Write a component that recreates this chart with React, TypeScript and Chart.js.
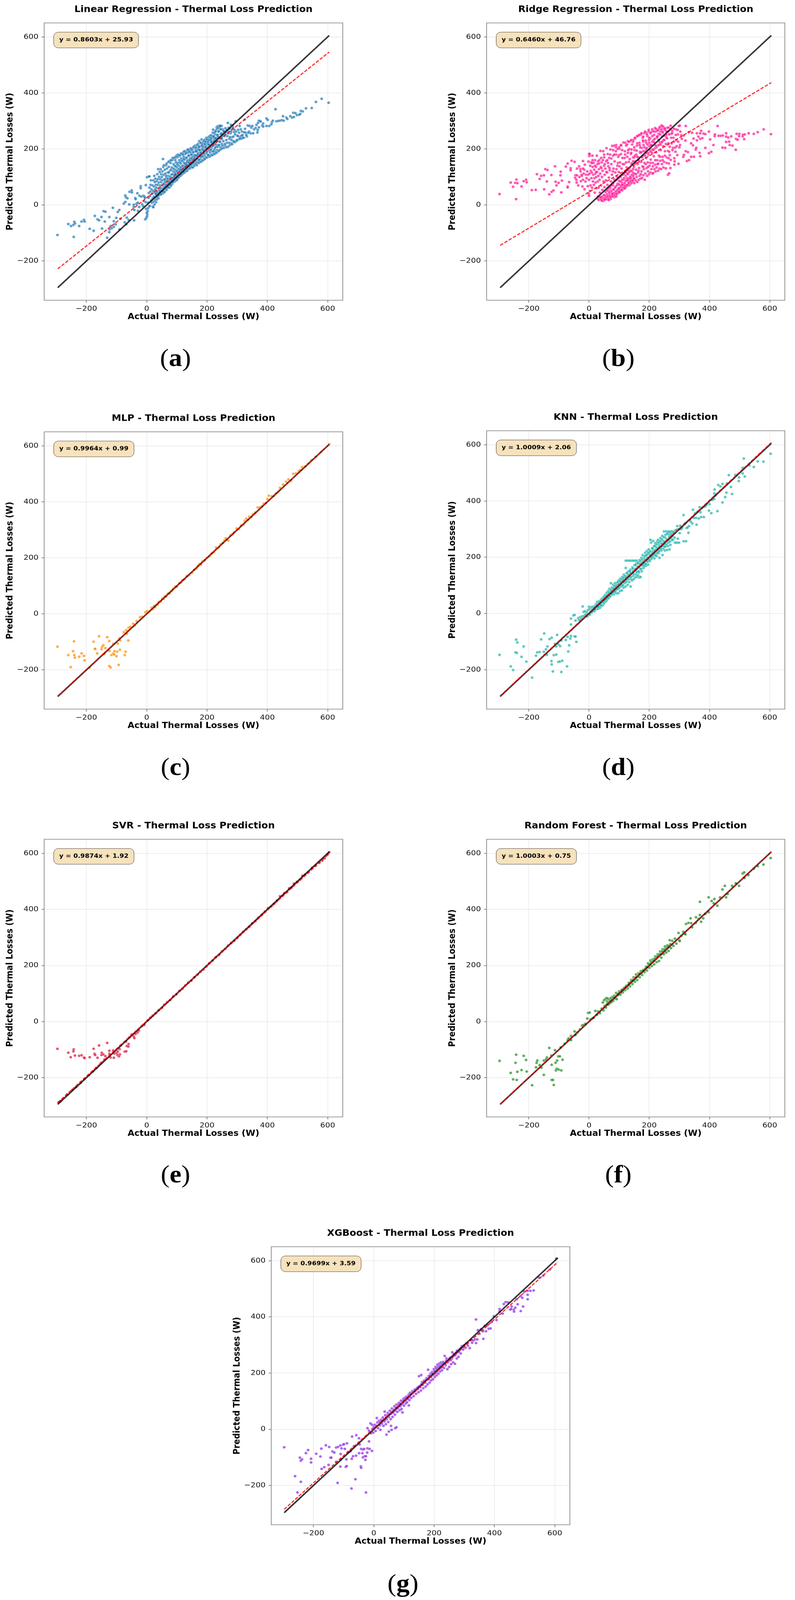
import React, { useEffect, useRef } from "react";
import { Chart, registerables } from "chart.js";

Chart.register(...registerables);

type Pair = [number, number];

const axisTicks = [-200, 0, 200, 400, 600];
const axisMin = -340;
const axisMax = 650;
const xAxisTitle = "Actual Thermal Losses (W)";
const yAxisTitle = "Predicted Thermal Losses (W)";
const identityLine: Pair[] = [[-295, -295], [605, 605]];
const xgbIdentityLine: Pair[] = [[-297, -297], [610, 610]];

const linearFit: Pair[] = [[-295, -228], [605, 546]];
const ridgeFit: Pair[] = [[-295, -144], [605, 437]];
const mlpFit: Pair[] = [[-295, -293], [605, 604]];
const knnFit: Pair[] = [[-295, -293], [605, 608]];
const svrFit: Pair[] = [[-295, -289], [605, 599]];
const forestFit: Pair[] = [[-295, -294], [605, 606]];
const xgbFit: Pair[] = [[-297, -285], [610, 595]];

const linearPoints: Pair[] = [
[-296,-107],[-260,-68],[-251,-75],[-243,-71],[-240,-60],[-238,-66],[-242,-114],[-224,-75],[-216,-59],[-208,-53],[-206,-59],[-189,-85],[-176,-92],[-172,-39],[-163,-51],[-158,-55],[-150,-43],[-148,-84],[-143,-22],[-137,-24],[-139,-59],[-124,-43],[-131,-117],[-119,-75],[-123,-87],[-124,-97],[-116,-83],[-109,-78],[-112,-10],[-109,-58],[-103,-69],[-101,-46],[-96,-25],[-91,-18],[-87,-49],[-90,-87],[-76,5],[-71,11],[-71,34],[-69,28],[-64,24],[-73,-62],[-68,-69],[-66,-45],[-60,-53],[-58,2],[-57,47],[-50,52],[-49,45],[-42,-55],[-38,25],[-37,21],[-31,42],[-43,1],[-43,-7],[-41,-18],[-29,-21],[-25,-7],[-20,67],[-20,60],[-11,33],[-8,30],[-5,-51],[-1,-46],[2,-33],[-3,71],[1,99],[6,101],[9,102],
[-34,4],[-30,8],[-24,33],[-18,30],[-15,2],[-12,-4],[-9,14],[-6,26],[-3,10],[-2,-14],[0,-28],[1,-40],[3,-22],[4,-12],[5,8],[6,26],[7,43],[8,-6],[9,62],[10,-3],[11,32],[12,48],[13,72],[14,88],[15,16],[16,56],[17,8],[18,40],[19,70],[20,-5],[20,24],[21,50],[22,-8],[22,88],[23,12],[24,30],[24,66],[25,104],[26,2],[26,44],[27,82],[28,18],[28,56],[29,94],[30,26],[30,72],[31,10],[32,38],[32,62],[33,85],[34,20],[34,50],[35,110],[36,30],[36,72],[37,92],[38,128],[38,42],[39,24],[40,60],[40,80],[41,34],[41,100],[42,50],[43,118],[44,38],[44,70],[45,92],[46,44],[46,128],[47,60],[47,82],[48,110],[49,40],[50,70],[50,100],[51,50],[52,120],[52,88],[53,58],[54,164],[54,42],[55,76],[55,136],[56,108],[57,52],[57,142],[58,92],[59,66],[60,126],[60,48],[61,82],[62,112],[63,60],[64,142],[65,98],[65,74],[66,54],[67,130],[68,86],[69,64],[70,116],[71,104],[72,70],[73,136],[74,92],[75,62],[76,157],[77,122],[78,78],[79,150],[80,68],[81,108],[82,88],[83,134],[84,74],[85,160],[86,98],[87,80],[88,120],[89,146],[90,166],[90,88],[91,108],[92,141],[93,84],[94,126],[95,160],[96,94],[97,152],[98,112],[99,88],[100,170],[100,134],[101,92],[102,150],[103,100],[104,122],[105,173],[106,98],[107,140],[108,160],[109,106],[110,128],[111,176],[112,104],[113,148],[114,118],[115,166],[116,108],[117,136],[118,182],[119,112],[120,156],[121,124],[122,189],[122,114],[123,172],[124,140],[125,116],[126,162],[127,128],[128,182],[129,120],[130,150],[131,192],[132,132],[133,170],[134,122],[135,144],[136,186],[137,128],[138,160],[139,198],[140,136],[141,176],[142,195],[143,130],[144,152],[145,188],[146,134],[147,168],[148,142],[149,200],[150,136],[151,180],[152,156],[153,134],[154,204],[155,146],[156,170],[157,190],[158,140],[159,162],[160,212],[161,146],[162,196],[163,178],[164,150],[165,206],[166,142],[167,168],[168,188],[169,152],[170,218],[171,160],[172,198],[173,150],[174,228],[175,176],[176,156],[177,210],[178,164],[179,192],[180,154],[181,222],[182,234],[183,172],[184,158],[185,204],[186,182],[187,160],[188,226],[189,194],[190,166],[191,214],[192,176],[193,164],[194,234],[195,200],[196,170],[197,222],[198,240],[199,184],[200,170],[201,206],[202,232],[203,176],[204,194],[205,242],[206,178],[207,216],[208,172],[209,246],[210,188],[211,226],[212,176],[213,249],[214,202],[215,180],[216,238],[217,192],[218,178],[219,258],[220,269],[221,212],[222,184],[223,242],[224,198],[225,182],[226,252],[227,222],[228,190],[229,266],[230,208],[231,186],[232,278],[233,236],[234,196],[235,280],[236,250],[237,214],[238,192],[239,264],[240,283],[241,226],[242,196],[243,272],[244,206],[245,283],[246,240],[247,200],[248,256],[249,218],[250,202],[252,270],[254,228],[256,204],[258,246],[260,212],[262,260],[264,206],[266,222],[269,293],[270,208],[272,276],[274,236],[276,214],[278,256],[280,220],[282,242],[283,217],[285,284],[288,228],[290,260],[292,224],[295,299],[297,228],[300,248],[303,268],[305,234],[308,282],[310,244],[313,236],[316,262],[318,250],[322,240],[325,305],[326,272],[328,258],[332,245],[335,284],[339,262],[341,282],[345,256],[347,276],[350,282],[353,256],[356,270],[361,275],[364,286],[367,259],[368,268],[369,293],[372,277],[372,301],[374,300],[378,298],[383,284],[386,280],[386,291],[397,282],[397,309],[401,304],[406,282],[413,288],[415,295],[418,301],[427,342],[430,299],[436,300],[442,301],[448,303],[452,317],[454,301],[463,312],[466,307],[476,317],[482,312],[488,314],[486,329],[493,328],[498,321],[505,322],[509,325],[511,336],[517,334],[528,345],[547,346],[561,368],[580,379],[603,365]
];
const linearDense: Pair[] = [
[33,46],[37,33],[43,52],[47,38],[52,47],[56,61],[58,46],[63,72],[66,62],[71,63],[74,80],[79,72],[83,96],[86,82],[91,90],[94,100],[97,98],[101,116],[103,106],[107,110],[111,122],[113,110],[118,131],[121,118],[124,150],[126,130],[129,142],[133,134],[135,158],[138,142],[141,152],[144,166],[146,146],[149,158],[152,172],[155,152],[158,176],[161,158],[163,192],[166,166],[169,178],[171,198],[173,162],[176,186],[179,172],[182,198],[184,174],[187,208],[191,184],[193,196],[196,212],[199,190],[202,220],[204,178],[207,200],[210,232],[212,196],[215,208],[218,226],[221,192],[224,236],[227,204],[229,216],[233,250],[235,208],[238,262],[240,214],[243,226],[246,270],[249,236],[251,212],[254,252],[257,262],[259,218],[261,274],[264,232],[267,246],[271,262],[273,222],[276,242],[279,286],[281,232],[284,272],[287,244],[289,226],[293,252],[296,262],[299,232],[302,246],[306,258],[309,238],[312,270],[315,248],[319,240],[323,260],[330,250],[337,258],
[66,148],[72,154],[80,160],[86,168],[93,170],[98,175],[103,180],[108,178],[114,184],[120,180],[125,192],[130,186],[136,198],[140,190],[146,202],[150,196],[156,208],[162,204],[167,214],[172,210],[178,222],[184,218],[190,230],[194,226],[200,234],[206,232],[212,240],[218,246],[224,258],[228,262],[233,272],[237,276],[242,280],[248,282],[243,282],
[60,90],[64,104],[69,94],[73,116],[77,100],[81,126],[85,110],[89,130],[93,116],[96,138],[99,122],[102,144],[106,128],[109,152],[112,134],[116,158],[119,140],[123,164],[127,148],[131,168],[134,152],[139,176],[143,160],[147,180],[151,166],[154,188],[159,170],[164,192],[168,176],[174,206],[177,182],[183,212],[188,194],[192,218],[197,204],[203,226],[208,214],[213,232],[217,220],[222,244],[226,232],[231,240],
[30,40],[34,30],[39,36],[44,46],[49,52],[53,48],[57,58],[61,66],[65,68],[68,72],[72,78],[76,84],[80,90],[84,88],[88,94],[92,98],[95,110],[99,104],[104,112],[108,118],[112,126],[115,118],[119,128],[124,134],[128,136],[132,144],[136,140],[140,152],[145,150],[149,166],[153,162],[157,164],[160,178],[165,176],[170,182],[175,196],[180,186],[186,198],[190,192],[195,206],[200,202],[205,216],[209,208],[214,224],[219,212],[223,228],[228,238],[232,226],[237,244],[241,238],[246,254],[250,246],[255,264],[260,252],[265,268],[270,256],[275,272],[280,262],[286,276],[291,268]
];

const ridgePoints: Pair[] = [
[-297,39],[-260,80],[-252,65],[-241,91],[-245,79],[-238,78],[-242,21],[-224,66],[-217,85],[-209,90],[-207,81],[-190,53],[-177,54],[-173,110],[-164,93],[-159,104],[-150,106],[-149,56],[-145,128],[-138,125],[-140,84],[-125,107],[-132,38],[-124,47],[-118,52],[-113,138],[-111,83],[-108,70],[-101,79],[-95,106],[-92,45],[-90,87],[-94,119],[-77,137],[-71,148],[-71,66],[-66,82],[-71,63],[-61,131],[-61,124],[-58,158],[-48,154],[-45,106],[-46,97],[-42,90],[-41,80],[-33,138],[-29,128],[-25,108],[-27,85],[-22,66],[-20,157],[-14,144],[-16,126],[-10,108],[-15,56],[-4,67],[-1,40],[0,33],[-2,155],[0,183],[1,175],
[2,182],[-40,106],[-36,70],[-32,100],[-28,120],[-24,104],[-20,90],[-18,112],[-12,84],[-8,96],[-6,120],[-3,108],[0,90],[2,112],[3,50],[4,140],[5,70],[6,122],[7,152],[8,96],[9,116],[10,62],[11,176],[12,136],[13,84],[14,108],[15,150],[16,72],[17,126],[18,96],[19,44],[20,160],[21,112],[22,80],[23,136],[24,100],[25,60],[26,176],[27,118],[28,146],[29,84],[30,30],[31,104],[32,62],[33,128],[34,160],[35,90],[36,44],[37,112],[38,193],[39,136],[40,70],[41,20],[42,152],[43,100],[44,54],[45,122],[46,14],[47,192],[48,84],[49,36],[50,140],[50,170],[51,64],[52,108],[53,24],[54,130],[55,46],[56,88],[57,156],[58,203],[59,30],[60,116],[61,72],[62,182],[63,20],[64,138],[65,50],[66,98],[67,168],[68,36],[69,124],[70,60],[71,198],[72,22],[73,84],[74,146],[75,44],[76,108],[77,211],[78,30],[79,70],[80,176],[81,130],[82,54],[83,92],[84,28],[85,156],[86,42],[87,116],[88,66],[89,192],[90,214],[91,36],[92,102],[93,50],[94,140],[95,76],[96,42],[97,172],[98,60],[99,118],[100,86],[101,200],[102,46],[103,152],[104,70],[105,100],[106,56],[107,212],[108,130],[109,80],[110,52],[111,168],[112,62],[113,108],[114,223],[115,90],[116,58],[117,146],[118,70],[119,192],[120,61],[121,116],[122,84],[123,212],[124,66],[125,134],[126,96],[127,172],[128,72],[129,228],[130,110],[131,82],[132,154],[133,70],[134,200],[135,122],[136,90],[137,228],[138,76],[139,182],[140,102],[141,148],[142,80],[143,216],[144,118],[145,86],[146,170],[147,232],[148,96],[149,136],[150,78],[151,196],[152,112],[153,156],[154,238],[155,88],[156,126],[157,180],[158,100],[159,212],[160,82],[161,146],[162,246],[163,116],[164,170],[165,90],[166,132],[167,222],[168,104],[169,190],[170,250],[171,94],[172,252],[173,154],[174,120],[175,204],[176,96],[177,138],[178,240],[179,176],[180,106],[181,214],[182,128],[183,256],[184,150],[185,90],[186,192],[187,112],[188,230],[189,168],[190,258],[191,132],[192,204],[193,104],[194,246],[195,152],[196,120],[197,180],[198,262],[199,110],[200,222],[201,140],[202,196],[203,238],[204,116],[205,162],[206,260],[207,128],[208,214],[209,186],[210,112],[211,264],[212,150],[213,114],[214,232],[215,174],[216,250],[217,128],[218,202],[219,275],[220,144],[221,120],[222,262],[223,188],[224,134],[225,240],[226,160],[227,268],[228,212],[229,122],[230,148],[231,254],[232,176],[233,272],[234,130],[235,224],[236,158],[237,262],[238,196],[239,128],[240,280],[241,284],[242,146],[243,244],[244,172],[245,258],[246,210],[247,134],[248,272],[249,154],[250,232],[252,192],[254,266],[255,131],[256,250],[258,170],[260,276],[262,193],[262,108],[264,167],[265,148],[266,113],[268,178],[270,132],[271,283],[271,161],[272,254],[274,220],[276,264],[279,204],[280,240],[283,167],[283,144],[284,156],[286,205],[288,270],[290,232],[293,178],[295,252],[297,147],[298,282],[300,206],[301,283],[303,262],[306,249],[313,172],[315,179],[320,230],[321,192],[321,282],[325,157],[328,189],[331,260],[332,160],[339,172],[339,220],[342,258],[345,213],[347,237],[348,172],[354,198],[356,204],[358,256],[358,231],[363,244],[367,186],[369,236],[369,256],[369,174],[372,265],[376,239],[380,255],[386,253],[386,204],[398,262],[398,185],[402,234],[406,190],[413,214],[417,246],[418,252],[427,282],[430,247],[437,247],[443,205],[444,248],[452,204],[455,225],[455,244],[455,256],[462,241],[465,226],[467,214],[472,245],[476,212],[487,197],[488,236],[490,254],[493,233],[498,246],[499,254],[510,245],[511,251],[515,235],[517,252],[530,256],[547,254],[560,260],[580,270],[604,253]
];
const ridgeDense: Pair[] = [
[28,22],[32,18],[35,28],[38,22],[42,16],[44,30],[47,24],[50,18],[52,34],[55,26],[58,20],[60,38],[62,30],[65,24],[67,44],[69,32],[72,28],[74,50],[76,38],[79,32],[81,56],[83,42],[85,34],[87,62],[89,48],[91,40],[93,70],[95,54],[97,46],[99,74],[100,60],[102,50],[104,84],[106,66],[108,54],[110,90],[112,72],[114,62],[116,96],[118,78],[120,68],[122,104],[124,88],[126,72],[128,112],[130,94],[132,78],[134,118],[136,100],[138,84],[140,122],[142,108],[144,88],[146,128],[148,112],[150,94],[60,52],[64,60],[70,66],[75,72],[80,78],[86,86],[92,90],[98,96],[104,102],[110,108],[116,112],[122,118],[128,124],[134,132],
[150,170],[156,150],[160,172],[166,160],[170,186],[176,170],[180,192],[186,176],[190,200],[196,186],[200,210],[205,190],[210,226],[214,196],[218,236],[224,206],[228,246],[232,214],[236,252],[240,222],[244,262],[248,232],[252,270],[256,242],[262,262],[266,252],[270,270],[276,256],[282,272],[288,250],[294,268],
[160,246],[166,250],[174,256],[180,244],[186,262],[192,252],[198,268],[204,256],[210,270],[216,262],[222,272],[228,266],[234,278],[240,270],[246,280],[252,274],[258,262],[264,276],[120,222],[126,216],[132,226],[140,232],[146,226],[152,240],[100,206],[106,214],[90,206],[95,200],[84,212],
[-40,130],[-20,130],[10,150],[20,140],[30,156],[40,168],[50,180],[60,160],[70,180],[80,196],[90,180],[100,178],[110,196],[120,180],[130,196],[140,186],[150,206],[160,220],[170,206],[180,226],[190,222],[200,240],[210,246],
[12,160],[24,118],[33,148],[41,132],[46,160],[52,146],[58,118],[63,150],[68,132],[74,166],[79,120],[84,180],[91,128],[96,150],[101,138],[106,182],[112,146],[118,168],[123,152],[129,186],[135,164],[141,198],[146,156],[152,176],[158,194],[163,160],[168,214],[173,188],[179,230],[184,206],[189,186],[194,216],[199,232],[205,214],[211,198],[216,224],[221,212],[226,244],[231,232],[237,216],[243,226],[249,248],[255,218],[259,238],[263,220],[268,208],[273,240],[277,196],[282,226],[287,190],[291,210],[296,226],[302,214],[308,236],[314,248],[40,28],[52,20],[66,18],[78,40],[90,30],[100,46],[110,72],[118,60],[128,88],[138,96],[147,104],[156,110],[164,122],[172,110],[180,136],[188,146],[196,136],[204,150],[212,138],[220,160],[228,146],[236,172],[244,160],[252,176],[258,150],[266,190]
];

const mlpPoints: Pair[] = [
[-296,-117],[-260,-147],[-252,-190],[-244,-133],[-241,-98],[-240,-147],[-238,-156],[-224,-153],[-216,-141],[-208,-150],[-206,-166],[-190,-192],[-176,-99],[-172,-125],[-171,-125],[-164,-141],[-158,-80],[-150,-126],[-148,-118],[-144,-112],[-140,-143],[-137,-122],[-131,-83],[-124,-97],[-124,-132],[-124,-186],[-120,-191],[-117,-147],[-111,-107],[-111,-142],[-107,-133],[-108,-145],[-100,-151],[-98,-135],[-96,-106],[-93,-182],[-89,-128],[-90,-87],[-88,-95],[-73,-147],[-70,-135],[-61,-95],[-66,-71],[-76,-65],[-68,-58],[-60,-49],[-54,-46],[-45,-35],[-41,-42],[-33,-26],[-22,-12],[-16,-10],[-4,6],[1,10],
[8,8],[16,22],[20,17],[24,28],[28,24],[32,32],[36,33],[40,43],[46,44],[52,55],[56,53],[60,63],[65,62],[70,72],[76,73],[82,82],[88,90],[95,98],[100,97],[108,110],[113,112],[118,120],[125,124],[133,135],[140,138],[150,147],[158,158],[165,162],[170,172],[175,178],[180,176],[185,187],[192,191],[200,200],[208,206],[215,215],[222,220],[230,237],[238,236],[245,248],[252,254],[258,262],[262,270],[270,262],[278,281],[285,284],[290,292],[298,305],[305,303],[313,316],[320,318],[325,332],[330,340],[335,336],[340,347],[346,345],[352,356],[360,362],[368,380],[375,380],[382,384],[388,393],[395,396],[400,410],[405,422],[415,420],[422,422],[428,430],[436,437],[442,450],[452,462],[462,472],[470,480],[478,475],[486,500],[495,502],[505,510],[510,513],[515,524],[525,526],[535,536],[545,548],[560,560],[578,578],[605,606]
];

const knnPoints: Pair[] = [
[-297,-147],[-260,-188],[-252,-201],[-242,-93],[-238,-103],[-244,-138],[-240,-140],[-217,-117],[-224,-154],[-208,-171],[-189,-228],[-176,-150],[-172,-138],[-164,-137],[-159,-92],[-150,-136],[-140,-147],[-143,-127],[-138,-117],[-149,-71],[-131,-91],[-124,-86],[-125,-169],[-124,-181],[-120,-206],[-117,-148],[-109,-146],[-113,-108],[-109,-117],[-106,-76],[-101,-110],[-96,-116],[-102,-172],[-97,-171],[-89,-168],[-92,-208],[-92,-96],[-77,-94],[-73,-188],[-71,-83],[-69,-135],[-66,-113],[-62,-89],[-60,-80],[-60,-39],[-60,-18],[-48,-81],[-45,-82],[-42,-101],[-52,-7],[-45,-25],[-48,-5],[-36,-16],[-29,-12],[-21,25],[-18,6],
[-34,-22],[-30,-26],[-26,-18],[-22,-10],[-16,-8],[-14,8],[-12,-4],[-8,4],[-6,-10],[-4,12],[-2,-2],[0,24],[1,16],[3,-4],[5,6],[7,22],[9,4],[10,14],[12,24],[14,10],[16,18],[18,8],[20,28],[22,14],[24,34],[25,20],[27,42],[28,24],[30,16],[32,42],[33,28],[35,44],[36,20],[38,34],[40,50],[41,26],[43,40],[44,54],[46,30],[47,46],[49,60],[50,36],[52,52],[53,66],[55,42],[56,60],[58,46],[59,74],[61,52],[62,66],[64,80],[65,54],[67,70],[68,88],[70,60],[71,78],[73,108],[74,66],[76,92],[77,72],[79,84],[80,102],[82,68],[83,92],[85,76],[86,108],[88,84],[89,96],[91,72],[92,110],[94,88],[95,102],[97,72],[98,118],[100,92],[101,112],[103,80],[104,124],[106,96],[107,116],[109,82],[110,130],[112,102],[113,122],[115,92],[116,138],[118,108],[119,128],[121,96],[122,162],[122,188],[124,118],[125,144],[127,188],[128,102],[129,132],[131,150],[132,188],[133,112],[134,130],[136,188],[137,156],[138,96],[139,122],[141,146],[142,188],[143,118],[144,164],[146,134],[147,188],[148,122],[150,152],[151,172],[152,188],[153,128],[155,160],[156,138],[157,178],[158,188],[159,130],[160,150],[162,182],[163,136],[164,168],[166,146],[167,128],[168,190],[170,160],[171,130],[172,176],[174,198],[175,150],[177,170],[178,208],[180,186],[181,162],[183,198],[184,168],[186,216],[187,178],[189,206],[190,170],[192,222],[193,188],[195,212],[196,174],[198,228],[199,196],[201,218],[202,186],[204,262],[205,208],[206,252],[207,194],[209,232],[210,200],[212,222],[213,258],[214,206],[216,240],[217,196],[219,226],[220,250],[222,212],[223,236],[225,204],[226,256],[228,224],[229,262],[231,214],[232,244],[234,198],[235,228],[237,268],[238,252],[240,224],[241,240],[243,276],[244,208],[246,258],[247,230],[249,292],[250,246],[252,224],[253,270],[255,238],[256,292],[258,258],[259,226],[261,282],[262,240],[264,292],[265,262],[267,228],[268,280],[270,244],[271,292],[273,268],[275,292],[277,276],[279,262],[281,292],[283,286],[285,252],[287,296],[289,252],[291,298],[293,311],[293,252],[295,266],[297,300],[299,252],[301,286],[303,312],[306,300],[309,306],[314,350],[314,257],[317,318],[320,322],[322,257],[324,304],[327,306],[330,287],[332,311],[335,332],[338,326],[343,320],[345,369],[348,340],[352,356],[355,340],[357,316],[360,362],[364,338],[367,378],[370,360],[372,343],[376,376],[381,343],[385,380],[390,386],[398,366],[400,389],[406,357],[409,404],[415,407],[416,427],[417,441],[419,420],[426,364],[429,457],[436,452],[443,395],[443,461],[452,414],[456,430],[458,462],[464,492],[471,450],[475,425],[486,493],[497,471],[498,484],[510,498],[510,518],[514,551],[517,487],[532,527],[547,521],[560,541],[579,540],[603,568]
];
const knnDense: Pair[] = [
[15,20],[19,14],[23,26],[29,34],[31,24],[37,42],[39,30],[45,50],[48,40],[51,46],[54,62],[57,50],[60,66],[63,56],[66,74],[69,62],[72,84],[75,70],[78,90],[81,76],[84,98],[87,78],[90,100],[93,86],[96,112],[99,90],[102,116],[105,100],[108,122],[111,100],[114,128],[117,112],[120,134],[123,112],[126,144],[130,122],[135,150],[140,130],[145,160],[149,140],[154,172],[158,146],[163,178],[165,150],[170,186],[173,158],[176,192],[182,172],[185,204],[188,176],[191,208],[194,184],[197,216],[200,190],[203,222],[208,200],[211,232],[215,212],[218,240],[221,206],[224,246],[227,216],[230,252],[233,222],[236,258],[239,232],[242,264],[245,240],[248,272],[251,238],[254,280],[257,246],[260,286],[263,252],[266,290],[269,256],[272,284],[276,262],[280,288],[284,270],
[10,8],[18,22],[26,30],[34,38],[42,46],[50,56],[58,62],[66,68],[74,80],[82,88],[90,94],[98,104],[106,112],[114,118],[122,128],[130,138],[138,142],[146,150],[154,158],[162,166],[170,176],[178,182],[186,192],[194,198],[202,208],[210,216],[218,222],[226,232],[234,238],[242,248],[250,256],[258,264],[266,272],[274,278]
];

const svrPoints: Pair[] = [
[-296,-97],[-260,-111],[-252,-127],[-242,-99],[-243,-106],[-238,-121],[-224,-122],[-216,-120],[-208,-128],[-206,-130],[-189,-127],[-176,-97],[-173,-115],[-171,-119],[-163,-129],[-158,-85],[-149,-111],[-150,-119],[-144,-117],[-137,-123],[-131,-76],[-124,-104],[-124,-115],[-120,-128],[-111,-103],[-109,-129],[-107,-114],[-100,-112],[-97,-119],[-96,-107],[-92,-124],[-89,-117],[-90,-98],[-86,-85],[-73,-107],[-68,-106],[-66,-87],[-61,-89],[-60,-80],[-69,-71],[-58,-57],[-50,-46],[-43,-53],[-41,-59],[-37,-44],[-30,-39],[-26,-32],[-16,-16],[-8,-12],
[-292,-288],[-285,-283],[-264,-260],[-247,-244],[-234,-233],[-219,-218],[-207,-205],[-192,-191],[-178,-177],[-167,-165],[-152,-148],[-140,-135],
[4,5],[12,14],[20,21],[30,30],[40,41],[50,49],[58,60],[68,69],[78,77],[88,90],[98,97],[108,109],[118,117],[128,129],[138,139],[148,146],[158,158],[168,167],[178,178],[188,186],[198,197],[208,208],[218,217],[228,229],[240,238],[250,250],[260,259],[270,271],[280,280],[290,288],[300,298],[310,309],[320,320],[330,329],[340,338],[350,350],[360,358],[370,370],[382,381],[392,392],[402,404],[412,410],[422,420],[432,431],[442,447],[450,449],[456,458],[465,462],[472,475],[480,478],[488,492],[498,498],[508,506],[516,520],[525,524],[535,532],[548,548],[560,556],[572,566],[582,574],[590,582],[600,596],[605,604]
];

const forestPoints: Pair[] = [
[-297,-140],[-260,-183],[-252,-206],[-242,-118],[-244,-147],[-238,-179],[-240,-208],[-224,-173],[-217,-122],[-209,-137],[-207,-178],[-189,-227],[-176,-163],[-174,-147],[-172,-139],[-164,-155],[-158,-164],[-150,-190],[-150,-139],[-140,-128],[-143,-135],[-132,-94],[-125,-121],[-124,-154],[-124,-208],[-120,-208],[-117,-226],[-113,-102],[-111,-147],[-110,-174],[-107,-168],[-106,-139],[-102,-124],[-97,-124],[-101,-171],[-92,-174],[-88,-136],[-94,-92],
[-71,-66],[-60,-66],[-60,-51],[-48,-35],[-45,-48],[-39,-39],[-23,-14],[-18,-12],[-6,11],[-3,31],[2,32],[11,11],[21,38],
[-80,-78],[-68,-60],[-30,-28],[-12,-8],[5,8],[16,14],[26,24],[30,36],[36,30],[42,46],[46,68],[48,40],[50,76],[52,56],[54,80],[56,50],[58,84],[60,72],[62,82],[64,60],[66,68],[68,78],[70,66],[72,84],[75,70],[78,88],[80,74],[84,92],[87,82],[90,102],[92,80],[96,94],[100,108],[104,96],[108,112],[112,104],[116,120],[120,112],[124,128],[128,118],[132,138],[136,126],[140,148],[144,134],[148,158],[152,142],[156,168],[160,148],[164,172],[168,158],[172,180],[176,166],[180,184],[184,176],[188,190],[192,182],[196,208],[200,192],[204,218],[208,198],[212,222],[216,204],[220,232],[224,212],[228,240],[232,216],[236,250],[240,228],[244,258],[248,240],[252,268],[256,246],[260,272],[264,252],[268,290],[272,262],[276,288],[280,270],[285,296],[290,278],[297,316],[300,290],[301,287],[306,306],[313,320],[318,314],[320,311],[322,348],[330,352],[337,368],[339,351],[342,336],[354,352],[355,372],[364,366],[368,427],[368,380],[372,356],[379,368],[386,384],[397,443],[397,390],[407,430],[414,422],[416,437],[426,413],[435,443],[443,471],[451,484],[455,443],[460,455],[475,484],[487,493],[498,484],[510,528],[515,532],[516,512],[529,522],[547,545],[560,554],[579,560],[603,583]
];
const forestDense: Pair[] = [
[58,60],[62,66],[66,66],[70,72],[76,78],[82,84],[88,88],[94,98],[98,100],[102,104],[106,104],[110,114],[114,112],[118,118],[122,124],[126,126],[130,130],[134,136],[138,140],[142,144],[146,148],[150,150],[154,156],[158,160],[162,162],[166,170],[170,172],[174,174],[178,180],[182,182],[186,186],[190,196],[194,194],[198,204],[202,204],[206,212],[210,212],[214,216],[218,224],[222,224],[226,232],[230,234],[234,240],[238,240],[242,250],[246,250],[250,258],[254,258],[258,264],[262,268],[266,270],[270,276]
];

const xgbPoints: Pair[] = [
[-297,-64],[-261,-167],[-253,-225],[-245,-101],[-242,-112],[-238,-107],[-242,-187],[-225,-85],[-218,-74],[-208,-105],[-208,-118],[-191,-87],[-177,-97],[-174,-69],[-173,-141],[-164,-135],[-159,-57],[-150,-127],[-148,-63],[-144,-101],[-141,-101],[-137,-79],[-131,-83],[-125,-65],[-125,-116],[-120,-191],[-119,-63],[-111,-58],[-110,-88],[-111,-133],[-109,-107],[-107,-68],[-102,-55],[-99,-53],[-96,-70],[-93,-134],[-90,-131],[-91,-107],[-89,-50],[-85,-81],[-77,-78],[-74,-211],[-72,-26],[-73,-105],[-69,-96],[-66,-61],[-61,-178],[-59,-94],[-58,-21],[-49,-32],[-49,-85],[-47,-54],[-43,-132],[-42,-137],[-42,-70],[-38,-85],[-36,-72],[-32,-70],[-36,-100],[-30,-96],[-26,-96],[-26,-225],[-28,-109],[-22,-83],[-21,-68],[-21,4],[-14,-70],[-16,-43],[-16,-5],[-6,-77],[-11,21],[-6,16],[-9,-14],
[42,-19],[50,-8],[57,12],[59,-2],[71,4],[75,7],[10,40],[36,63],
[-4,2],[0,8],[-2,-12],[3,16],[6,-6],[8,12],[12,24],[14,4],[17,30],[20,14],[22,-2],[24,34],[27,20],[30,42],[32,12],[35,28],[38,50],[40,18],[43,36],[46,58],[48,26],[50,44],[53,66],[56,36],[58,56],[60,74],[62,44],[65,60],[68,82],[70,52],[72,66],[75,88],[78,62],[80,76],[83,94],[86,68],[88,82],[90,102],[92,72],[95,60],[96,92],[98,108],[100,84],[103,112],[106,92],[108,116],[110,96],[113,110],[116,85],[116,124],[118,104],[120,130],[124,112],[128,136],[132,118],[136,142],[140,126],[144,148],[148,132],[150,189],[152,154],[156,138],[157,193],[160,168],[164,146],[168,174],[172,152],[175,182],[178,160],[180,212],[182,190],[185,166],[188,198],[190,174],[193,204],[196,178],[199,214],[202,186],[205,222],[208,192],[211,230],[214,198],[217,234],[220,206],[223,238],[226,210],[230,240],[233,218],[235,261],[238,228],[241,252],[244,214],[247,244],[250,222],[253,255],[256,232],[259,252],[260,274],[263,238],[266,262],[269,233],[272,272],[275,252],[278,276],[281,258],[285,286],[288,270],[292,296],[296,284],[300,300],[304,290],[308,306],[312,298],[318,289],[322,318],[326,308],[330,316],[336,320],[339,391],[339,307],[343,320],[345,353],[350,340],[355,356],[362,349],[363,322],[368,368],[372,349],[377,371],[381,358],[387,359],[391,382],[398,402],[407,389],[417,428],[417,419],[427,412],[431,446],[437,453],[445,452],[452,426],[455,428],[457,437],[464,426],[465,419],[469,433],[474,463],[477,445],[487,474],[487,421],[492,468],[495,437],[499,490],[510,493],[510,463],[510,479],[519,493],[530,494],[548,540],[562,547],[584,569],[605,608]
];
const xgbDense: Pair[] = [
[22,26],[26,30],[33,36],[37,34],[41,42],[45,48],[49,50],[54,54],[58,62],[62,60],[66,70],[69,68],[73,78],[77,74],[81,86],[84,82],[87,92],[91,88],[94,100],[97,96],[101,104],[105,102],[109,112],[112,108],[115,118],[119,116],[122,124],[126,128],[130,130],[134,134],[138,138],[142,142],[146,144],[150,152],[154,150],[158,160],[162,158],[166,170],[170,166],[174,176],[178,178],[182,178],[186,190],[190,186],[194,198],[198,194],[201,208],[204,200],[207,216],[210,206],[213,222],[216,214],[219,226],[222,218],[225,232],[228,222],[232,236],[236,232],[240,244],[245,238],[250,250],[255,246],[260,258],[265,268],[270,264],[276,280],[282,276],[290,290]
];

const panelNames = ["Linear Regression", "Ridge Regression", "MLP", "KNN", "SVR", "Random Forest", "XGBoost"];
const panelLetters = ["a", "b", "c", "d", "e", "f", "g"];
const panelEquations = [
  "y = 0.8603x + 25.93",
  "y = 0.6460x + 46.76",
  "y = 0.9964x + 0.99",
  "y = 1.0009x + 2.06",
  "y = 0.9874x + 1.92",
  "y = 1.0003x + 0.75",
  "y = 0.9699x + 3.59",
];
const panelPoints = [
  [...linearPoints, ...linearDense],
  [...ridgePoints, ...ridgeDense],
  mlpPoints,
  [...knnPoints, ...knnDense],
  svrPoints,
  [...forestPoints, ...forestDense],
  [...xgbPoints, ...xgbDense],
];
const panelFits = [linearFit, ridgeFit, mlpFit, knnFit, svrFit, forestFit, xgbFit];
const panelIdentity = [identityLine, identityLine, identityLine, identityLine, identityLine, identityLine, xgbIdentityLine];
const panelColors = ["31,119,180", "255,20,147", "255,140,0", "32,178,170", "220,20,60", "34,139,34", "138,43,226"];

// plot-area boxes in page pixels: left, top, width, height
const panelBoxes = [
  [113, 63, 764, 763],
  [1245, 63, 763, 763],
  [113, 1188, 764, 763],
  [1245, 1185, 763, 766],
  [113, 2309, 764, 764],
  [1245, 2309, 763, 764],
  [694, 3430, 764, 765],
];
// centre of the "(a)" captions in page pixels
const captionCentres = [
  [449, 984], [1582, 984], [449, 2109], [1582, 2109], [449, 3230], [1582, 3230], [1031, 4355],
];

const PAGE_WIDTH = 2034;
const PAGE_HEIGHT = 4402;
const FONT = '"DejaVu Sans"';
const LEFT_GUTTER = 113;
const TOP_GUTTER = 63;
const BOTTOM_GUTTER = 70;
const RIGHT_GUTTER = 10;

const toXY = (pairs: Pair[]) => pairs.map(([x, y]) => ({ x, y }));
const tickText = (v: number) => (v < 0 ? "\u2212" + Math.abs(v) : String(v));

function Panel({ index }: { index: number }) {
  const ref = useRef<HTMLCanvasElement>(null);
  const [left, top, w, h] = panelBoxes[index];
  const canvasW = LEFT_GUTTER + w + RIGHT_GUTTER;
  const canvasH = TOP_GUTTER + h + BOTTOM_GUTTER;

  useEffect(() => {
    const framePlugin = {
      id: "frameAndEquation",
      afterDatasetsDraw(chart: any) {
        const { ctx, chartArea: a } = chart;
        ctx.save();
        ctx.strokeStyle = "#808080";
        ctx.lineWidth = 1.7;
        ctx.strokeRect(a.left, a.top, a.right - a.left, a.bottom - a.top);
        const text = panelEquations[index];
        ctx.font = `bold 16.6px ${FONT}`;
        const tw = ctx.measureText(text).width;
        const bx = a.left + 24.5;
        const by = a.top + 25.3;
        ctx.beginPath();
        ctx.roundRect(bx, by, tw + 28, 43.4, 12);
        ctx.fillStyle = "rgba(245,222,179,0.88)";
        ctx.fill();
        ctx.lineWidth = 1;
        ctx.strokeStyle = "rgba(0,0,0,0.75)";
        ctx.stroke();
        ctx.fillStyle = "#000";
        ctx.textBaseline = "middle";
        ctx.textAlign = "left";
        ctx.fillText(text, bx + 14, by + 21);
        ctx.restore();
      },
    };

    const chart = new Chart(ref.current as HTMLCanvasElement, {
      type: "scatter",
      data: {
        datasets: [
          {
            label: "Regression fit",
            data: toXY(panelFits[index]),
            showLine: true,
            pointRadius: 0,
            borderColor: "rgba(255,0,0,0.85)",
            borderWidth: 3,
            borderDash: [9, 4],
            order: 1,
          },
          {
            label: "Perfect prediction",
            data: toXY(panelIdentity[index]),
            showLine: true,
            pointRadius: 0,
            borderColor: "rgba(0,0,0,0.8)",
            borderWidth: 4,
            order: 2,
          },
          {
            label: "Predictions",
            data: toXY(panelPoints[index]),
            pointRadius: 3.8,
            backgroundColor: `rgba(${panelColors[index]},0.72)`,
            borderColor: "rgba(255,255,255,0.85)",
            borderWidth: 0.6,
            order: 3,
          },
        ],
      } as any,
      options: {
        animation: false,
        responsive: false,
        devicePixelRatio: 1,
        layout: { autoPadding: false, padding: { left: 0, top: 0, right: RIGHT_GUTTER, bottom: 0 } },
        plugins: {
          legend: { display: false },
          tooltip: { enabled: false },
          title: {
            display: true,
            fullSize: false,
            text: `${panelNames[index]} - Thermal Loss Prediction`,
            color: "#000",
            font: { family: FONT, size: 24.5, weight: "bold", lineHeight: 1.2 },
            padding: { top: 11.9, bottom: 21.7 },
          },
        },
        scales: {
          x: {
            type: "linear",
            min: axisMin,
            max: axisMax,
            afterBuildTicks: (s: any) => { s.ticks = axisTicks.map((value) => ({ value })); },
            afterFit: (s: any) => { s.height = BOTTOM_GUTTER; },
            border: { display: false },
            grid: { color: "rgba(176,176,176,0.3)", lineWidth: 1.4, tickColor: "#333", tickLength: 6.5, tickWidth: 1.2 },
            ticks: {
              color: "#111",
              padding: 5,
              maxRotation: 0,
              font: { family: FONT, size: 20 },
              callback: (v: any) => tickText(Number(v)),
            },
            title: {
              display: true,
              text: xAxisTitle,
              color: "#000",
              font: { family: FONT, size: 22.4, weight: "bold", lineHeight: 1.2 },
              padding: { top: 0, bottom: 10.3 },
            },
          },
          y: {
            type: "linear",
            min: axisMin,
            max: axisMax,
            afterBuildTicks: (s: any) => { s.ticks = axisTicks.map((value) => ({ value })); },
            afterFit: (s: any) => { s.width = LEFT_GUTTER; },
            border: { display: false },
            grid: { color: "rgba(176,176,176,0.3)", lineWidth: 1.4, tickColor: "#333", tickLength: 6.5, tickWidth: 1.2 },
            ticks: {
              color: "#111",
              padding: 8,
              font: { family: FONT, size: 20 },
              callback: (v: any) => tickText(Number(v)),
            },
            title: {
              display: true,
              text: yAxisTitle,
              color: "#000",
              font: { family: FONT, size: 22.4, weight: "bold", lineHeight: 1.2 },
              padding: { top: 12.6, bottom: 0 },
            },
          },
        },
      } as any,
      plugins: [framePlugin],
    });
    return () => chart.destroy();
  }, [index]);

  return (
    <canvas
      ref={ref}
      width={canvasW}
      height={canvasH}
      style={{
        position: "absolute",
        left: left - LEFT_GUTTER,
        top: top - TOP_GUTTER,
        width: canvasW,
        height: canvasH,
      }}
    />
  );
}

function Caption({ index }: { index: number }) {
  const [cx, cy] = captionCentres[index];
  return (
    <div
      style={{
        position: "absolute",
        left: cx,
        top: cy,
        transform: "translate(-50%, -50%)",
        fontFamily: '"Liberation Serif"',
        fontSize: 68,
        lineHeight: 1,
        color: "#000",
        whiteSpace: "nowrap",
      }}
    >
      (<b>{panelLetters[index]}</b>)
    </div>
  );
}

export default function App() {
  // The browser may clamp the window below the requested height; fit the whole figure into what is really there.
  const verticalFit = Math.min(1, window.innerHeight / PAGE_HEIGHT);
  return (
    <div
      style={{
        position: "absolute",
        left: 0,
        top: 0,
        width: PAGE_WIDTH,
        height: PAGE_HEIGHT,
        overflow: "hidden",
        background: "#fff",
        transform: `scaleY(${verticalFit})`,
        transformOrigin: "0 0",
      }}
    >
      {panelNames.map((name, i) => (
        <React.Fragment key={name}>
          <Panel index={i} />
          <Caption index={i} />
        </React.Fragment>
      ))}
    </div>
  );
}
